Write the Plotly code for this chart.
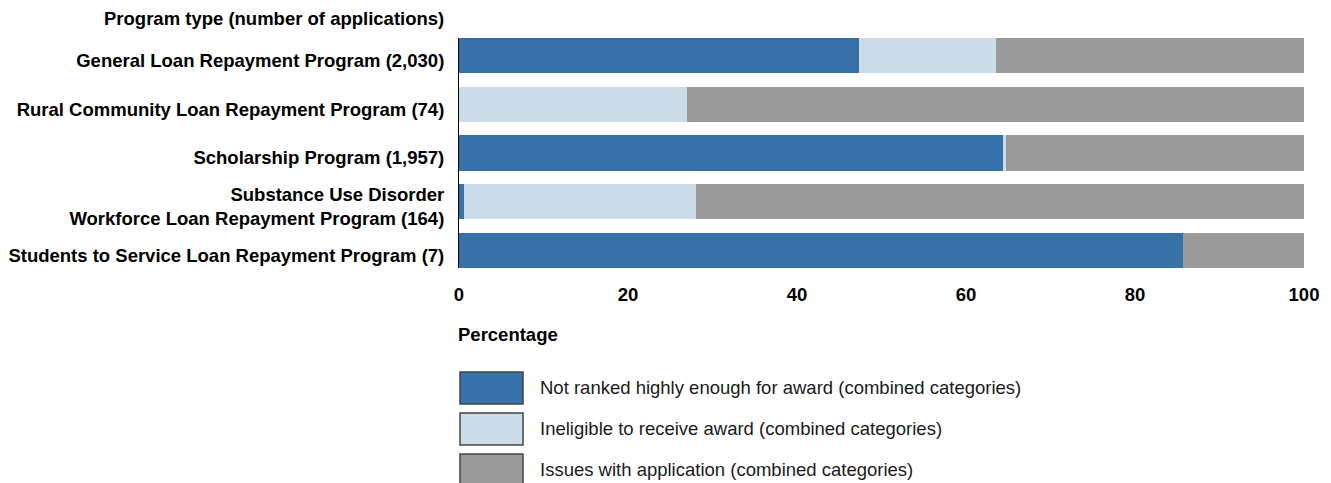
import plotly.graph_objects as go

categories = [
    "General Loan Repayment Program (2,030)",
    "Rural Community Loan Repayment Program (74)",
    "Scholarship Program (1,957)",
    "Substance Use Disorder<br>Workforce Loan Repayment Program (164)",
    "Students to Service Loan Repayment Program (7)",
]
not_ranked = [47.3, 0.0, 64.4, 0.6, 85.7]
ineligible = [16.3, 27.0, 0.3, 27.4, 0.0]
issues = [36.4, 73.0, 35.3, 72.0, 14.3]

series_names = [
    "Not ranked highly enough for award (combined categories)",
    "Ineligible to receive award (combined categories)",
    "Issues with application (combined categories)",
]
series_values = [not_ranked, ineligible, issues]
colors = ["#3672A8", "#CCDCE8", "#9A9A9A"]
x_ticks = [0, 20, 40, 60, 80, 100]

fig = go.Figure()
for name, vals, col in zip(series_names, series_values, colors):
    fig.add_trace(go.Bar(
        y=categories, x=vals, name=name, orientation="h",
        marker=dict(color=col, line=dict(width=0)),
        showlegend=False,
    ))

FONT = "Liberation Sans, Arial, sans-serif"
FS = 18.5
OFF = 8  # page body margin
L, R, T, B = 459 - OFF, 19, 38 - OFF, 215
W, H = 1315, 475
pw, ph = W - L - R, H - T - B

fig.update_layout(
    barmode="stack",
    bargap=0.28,
    width=W, height=H,
    margin=dict(l=L, r=R, t=T, b=B, autoexpand=False),
    plot_bgcolor="white", paper_bgcolor="white",
    font=dict(family=FONT, size=FS, color="#000000"),
    xaxis=dict(range=[0, 100], tickvals=x_ticks, showgrid=False, zeroline=False,
               showline=False, ticks="", ticklabelstandoff=13, automargin=False,
               tickfont=dict(family=FONT, size=FS, color="#000000", weight="bold")),
    yaxis=dict(autorange=False, range=[4.36, -0.36], showgrid=False, zeroline=False,
               showline=True, linecolor="#000000", linewidth=1, ticks="",
               ticklabelstandoff=10, ticklabelshift=-5, automargin=False,
               tickfont=dict(family=FONT, size=FS, color="#000000", weight="bold")),
)

annotations = [
    dict(text="<b>Program type (number of applications)</b>", xref="paper", yref="paper",
         x=0, y=1, xanchor="right", yanchor="middle", xshift=-13, yshift=20,
         showarrow=False, font=dict(family=FONT, size=FS, color="#000000")),
    dict(text="<b>Percentage</b>", xref="paper", yref="paper",
         x=0, y=0, xanchor="left", yanchor="middle", xshift=-3, yshift=-66,
         showarrow=False, font=dict(family=FONT, size=FS, color="#000000")),
]
shapes = []

def px2x(px):
    return (px - OFF - L) / pw

def py2y(py):
    return (H - B - (py - OFF)) / ph

for i, (name, col) in enumerate(zip(series_names, colors)):
    top = 372 + 41 * i
    shapes.append(dict(type="rect", xref="paper", yref="paper",
                       x0=px2x(460), x1=px2x(523), y0=py2y(top), y1=py2y(top + 32),
                       fillcolor=col, line=dict(color="#444444", width=1.5)))
    annotations.append(dict(text=name, xref="paper", yref="paper",
                            x=px2x(538), y=py2y(top + 15), xanchor="left", yanchor="middle",
                            showarrow=False, font=dict(family=FONT, size=FS, color="#1a1a1a")))

fig.update_layout(annotations=annotations, shapes=shapes)
fig.write_html("out.html")
